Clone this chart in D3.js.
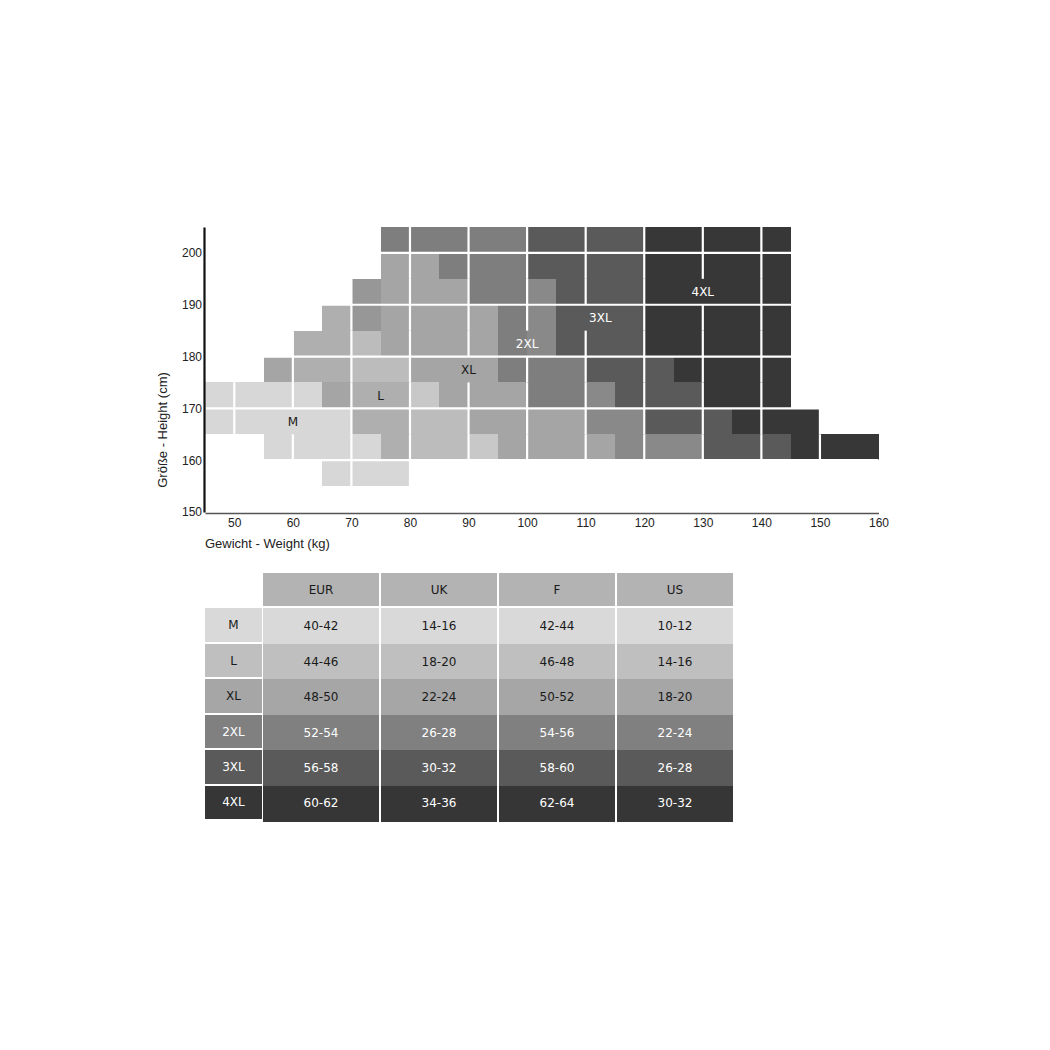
<!DOCTYPE html>
<html>
<head>
<meta charset="utf-8">
<script src="https://cdn.jsdelivr.net/npm/d3@7"></script>
<style>
  body { margin: 0; background: #fff; }
  svg { font-family: "DejaVu Sans", sans-serif; }
  .axis text { font-size: 12px; fill: #222; }
  .ylab .domain { stroke: #111; stroke-width: 2.2px; }
  .xlab .domain { stroke: #555; stroke-width: 1.6px; }
  .cells rect, .table rect { shape-rendering: crispEdges; }
</style>
</head>
<body>
<svg id="graph" width="1050" height="1050"></svg>
<script>
// weight bins (kg, left edge) and height bins (cm, lower edge, top row first)
var weightBins = [45, 50, 55, 60, 65, 70, 75, 80, 85, 90, 95, 100, 105, 110, 115, 120, 125, 130, 135, 140, 145, 150, 155];
var heightBins = [200, 195, 190, 185, 180, 175, 170, 165, 160, 155];

// one character per weight bin, "." = no size
var sizeGrid = [
  "......22222333344444...",
  "......XX222333344444...",
  ".....xXXX22y33344444...",
  "....lxXXXX2y33344444...",
  "...llLXXXX2y33344444...",
  "..XllLLXXX2223334444...",
  "MMMMXllmXXX22y333444...",
  "MMMMMllLLXXXXyy333444..",
  "..MMMMlLLmXXXXyyy333444",
  "....MMM................"
];
var shadeCodes  = ["M", "m", "L", "l", "X", "x", "y", "2", "3", "4"];
var shadeColors = ["#d7d7d7", "#c8c8c8", "#bcbcbc", "#afafaf", "#a5a5a5", "#979797", "#898989", "#7e7e7e", "#5a5a5a", "#373737"];

var weightTicks = [50, 60, 70, 80, 90, 100, 110, 120, 130, 140, 150, 160];
var heightTicks = [150, 160, 170, 180, 190, 200];

var sizeNames    = ["M", "L", "XL", "2XL", "3XL", "4XL"];
var labelWeights = [60, 75, 90, 100, 112.5, 130];
var labelHeights = [167.5, 172.5, 177.5, 182.5, 187.5, 192.5];

var tableCols = ["EUR", "UK", "F", "US"];
var eurSizes = ["40-42", "44-46", "48-50", "52-54", "56-58", "60-62"];
var ukSizes  = ["14-16", "18-20", "22-24", "26-28", "30-32", "34-36"];
var frSizes  = ["42-44", "46-48", "50-52", "54-56", "58-60", "62-64"];
var usSizes  = ["10-12", "14-16", "18-20", "22-24", "26-28", "30-32"];
var rowColors = ["#d9d9d9", "#bfbfbf", "#a6a6a6", "#808080", "#5a5a5a", "#363636"];
var headerColor = "#b3b3b3";

var graph = d3.select("#graph");
var shade = d3.scaleOrdinal().domain(shadeCodes).range(shadeColors);
var textColor = function(i) { return i < 3 ? "#1a1a1a" : "#ffffff"; };

// chart scales
var x = d3.scaleLinear().domain([45, 160]).range([205, 878.5]),
	y = d3.scaleLinear().domain([150, 205]).range([512, 227]);

var cells = [];
sizeGrid.forEach(function(row, r) {
	row.split("").forEach(function(c, i) {
		if (c !== ".") cells.push({w: weightBins[i], h: heightBins[r], code: c});
	});
});

var g = graph.append("g");

g.append("g").attr("class", "cells")
	.selectAll("rect")
	.data(cells)
	.enter().append("rect")
		.attr("x", function(d) { return x(d.w); })
		.attr("y", function(d) { return y(d.h + 5); })
		.attr("width", function(d) { return x(d.w + 5) - x(d.w); })
		.attr("height", function(d) { return y(d.h) - y(d.h + 5); })
		.attr("fill", function(d) { return shade(d.code); });

// white grid every 10, broken where a size label sits on a line
var isBroken = function(v, h) {
	for (var i = 0; i < sizeNames.length; i++) {
		var lv = Math.round(labelWeights[i] / 10) * 10;
		if (Math.abs(labelWeights[i] - lv) < 3 && lv === v && Math.floor(labelHeights[i] / 5) * 5 === h) return true;
	}
	return false;
};
var vSegs = [];
weightTicks.slice(0, -1).forEach(function(v) {
	heightBins.concat([150]).forEach(function(h) {
		if (!isBroken(v, h)) vSegs.push({v: v, h: h});
	});
});
var grid = g.append("g").attr("class", "grid").attr("stroke", "#fff").attr("stroke-width", 2.2);
grid.selectAll("line.v").data(vSegs).enter().append("line")
	.attr("class", "v")
	.attr("x1", function(d) { return x(d.v); }).attr("x2", function(d) { return x(d.v); })
	.attr("y1", function(d) { return y(d.h); }).attr("y2", function(d) { return y(d.h + 5); });
grid.selectAll("line.h").data(heightTicks.slice(1)).enter().append("line")
	.attr("class", "h")
	.attr("x1", x(45) + 1).attr("x2", x(160))
	.attr("y1", function(d) { return y(d); }).attr("y2", function(d) { return y(d); });

g.append("g").attr("class", "sizelabels")
	.selectAll("text")
	.data(sizeNames)
	.enter().append("text")
		.attr("x", function(d, i) { return x(labelWeights[i]); })
		.attr("y", function(d, i) { return y(labelHeights[i]); })
		.attr("dy", "0.35em")
		.attr("text-anchor", "middle")
		.style("font-size", "12px")
		.attr("fill", function(d, i) { return textColor(i); })
		.text(function(d) { return d; });

// axes
g.append("g")
	.attr("class", "axis xlab")
	.attr("transform", "translate(0," + 513 + ")")
	.call(d3.axisBottom(x).tickValues(weightTicks).tickSize(0).tickPadding(5))
	.append("text")
		.attr("x", 205)
		.attr("y", 35)
		.attr("text-anchor", "start")
		.style("font-size", "13px")
		.text("Gewicht - Weight (kg)");

g.append("g")
	.attr("class", "axis ylab")
	.attr("transform", "translate(" + 204 + ",0)")
	.call(d3.axisLeft(y).tickValues(heightTicks).tickSize(0).tickPadding(2))
	.append("text")
		.attr("transform", "rotate(-90)")
		.attr("x", -430)
		.attr("y", -37)
		.attr("text-anchor", "middle")
		.style("font-size", "13px")
		.text("Größe - Height (cm)");

// size conversion table
var colX = d3.scaleBand().domain(tableCols).range([263, 733]).paddingInner(0.017),
	rowY = d3.scaleBand().domain(["head"].concat(sizeNames)).range([573, 821]);
var tableVals = [eurSizes, ukSizes, frSizes, usSizes];
var step = rowY.step();
var t = graph.append("g").attr("class", "table").style("font-size", "12px");

t.selectAll("rect.head").data(tableCols).enter().append("rect")
	.attr("class", "head")
	.attr("x", function(d) { return colX(d); })
	.attr("y", rowY("head"))
	.attr("width", colX.bandwidth())
	.attr("height", step - 2.5)
	.attr("fill", headerColor);
t.selectAll("text.head").data(tableCols).enter().append("text")
	.attr("class", "head")
	.attr("x", function(d) { return colX(d) + colX.bandwidth() / 2; })
	.attr("y", rowY("head") + (step - 2.5) / 2)
	.attr("dy", "0.35em")
	.attr("text-anchor", "middle")
	.attr("fill", "#1a1a1a")
	.text(function(d) { return d; });

// row labels
t.selectAll("rect.rl").data(sizeNames).enter().append("rect")
	.attr("class", "rl")
	.attr("x", 205).attr("width", 57)
	.attr("y", function(d) { return rowY(d); })
	.attr("height", step - 2)
	.attr("fill", function(d, i) { return rowColors[i]; });
t.selectAll("text.rl").data(sizeNames).enter().append("text")
	.attr("class", "rl")
	.attr("x", 205 + 57 / 2)
	.attr("y", function(d) { return rowY(d) + (step - 2) / 2; })
	.attr("dy", "0.35em")
	.attr("text-anchor", "middle")
	.attr("fill", function(d, i) { return textColor(i); })
	.text(function(d) { return d; });

var body = [];
tableCols.forEach(function(c, ci) {
	sizeNames.forEach(function(s, si) {
		body.push({col: c, size: s, si: si, val: tableVals[ci][si]});
	});
});
t.selectAll("rect.cell").data(body).enter().append("rect")
	.attr("class", "cell")
	.attr("x", function(d) { return colX(d.col); })
	.attr("y", function(d) { return rowY(d.size); })
	.attr("width", colX.bandwidth())
	.attr("height", step + 0.5)
	.attr("fill", function(d) { return rowColors[d.si]; });
t.selectAll("text.cell").data(body).enter().append("text")
	.attr("class", "cell")
	.attr("x", function(d) { return colX(d.col) + colX.bandwidth() / 2; })
	.attr("y", function(d) { return rowY(d.size) + step / 2; })
	.attr("dy", "0.35em")
	.attr("text-anchor", "middle")
	.attr("fill", function(d) { return textColor(d.si); })
	.text(function(d) { return d.val; });
</script>
</body>
</html>
